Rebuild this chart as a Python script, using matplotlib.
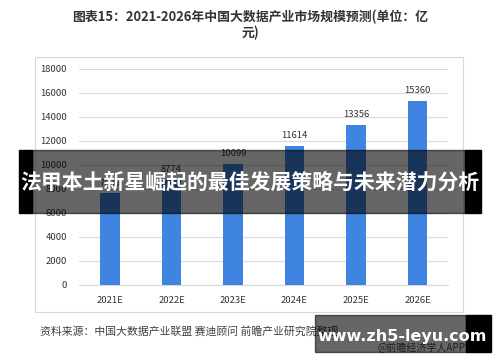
import matplotlib.pyplot as plt
from matplotlib.patches import Rectangle

years = ['2021E', '2022E', '2023E', '2024E', '2025E', '2026E']
values = [7630, 8774, 10099, 11614, 13356, 15360]
yticks = [0, 2000, 4000, 6000, 8000, 10000, 12000, 14000, 16000, 18000]

title = '图表15：2021-2026年中国大数据产业市场规模预测(单位：亿\n元)'
source = '资料来源：中国大数据产业联盟 赛迪顾问 前瞻产业研究院整理'
credit = '@前瞻经济学人APP'
banner = '法甲本土新星崛起的最佳发展策略与未来潜力分析'
site = 'www.zh5-leyu.com'

plt.rcParams['font.family'] = ['Noto Sans CJK SC', 'DejaVu Sans']

W, H = 500, 362
fig = plt.figure(figsize=(W / 100, H / 100), dpi=100)


def fx(px):
    return px / W


def fy(py):
    return 1 - py / H


# chart frame
fig.patches.append(Rectangle((fx(35), fy(312)), fx(428), 255 / H, transform=fig.transFigure,
                             fill=False, edgecolor='#d9d9d9', linewidth=0.8))

ax = fig.add_axes([fx(79.25), fy(285), fx(369), 216 / H])
ax.bar(range(len(years)), values, width=0.31, color='#3f84e0', zorder=3)
for i, v in enumerate(values):
    ax.text(i, v + 450, str(v), ha='center', va='bottom', fontsize=6.8, color='#333333')
ax.set_xlim(-0.5, len(years) - 0.5)
ax.set_ylim(0, 18000)
ax.set_yticks(yticks)
ax.set_yticklabels([str(t) for t in yticks], fontsize=6.8, color='#333333')
ax.set_xticks(range(len(years)))
ax.set_xticklabels(years, fontsize=6.8, color='#333333')
ax.yaxis.grid(True, color='#d9d9d9', linewidth=0.8, zorder=0)
ax.tick_params(length=0, pad=9)
ax.tick_params(axis='x', pad=8)
for s in ax.spines.values():
    s.set_visible(False)
ax.spines['bottom'].set_visible(True)
ax.spines['bottom'].set_color('#d9d9d9')

fig.text(0.5, fy(25), title, ha='center', va='center', fontsize=9.3, fontweight='bold',
         color='#333333', linespacing=1.1)
fig.text(fx(40), fy(331), source, ha='left', va='center', fontsize=7.8, color='#404040')
fig.text(fx(466), fy(348), credit, ha='right', va='center', fontsize=7.2, color='#505050')

# overlay banner
fig.patches.append(Rectangle((fx(19), fy(213)), fx(13), 63 / H, transform=fig.transFigure,
                             color='black', zorder=10))
fig.patches.append(Rectangle((fx(465), fy(213)), fx(16), 63 / H, transform=fig.transFigure,
                             color='black', zorder=10))
fig.patches.append(Rectangle((fx(32), fy(213)), fx(433), 63 / H, transform=fig.transFigure,
                             color='black', alpha=0.6, zorder=10))
fig.text(0.5, fy(182), banner, ha='center', va='center', fontsize=15, fontweight='bold',
         color='white', zorder=11)

# site badge
fig.patches.append(Rectangle((fx(315), fy(352)), fx(151), 37 / H, transform=fig.transFigure,
                             color='black', alpha=0.6, zorder=10))
fig.patches.append(Rectangle((fx(466), fy(352)), fx(25), 37 / H, transform=fig.transFigure,
                             color='black', zorder=10))
fig.text(fx(402), fy(336), site, ha='center', va='center', fontsize=11.5, fontweight='bold',
         color='white', family='DejaVu Sans', zorder=11)

fig.savefig('out.png', dpi=100)
